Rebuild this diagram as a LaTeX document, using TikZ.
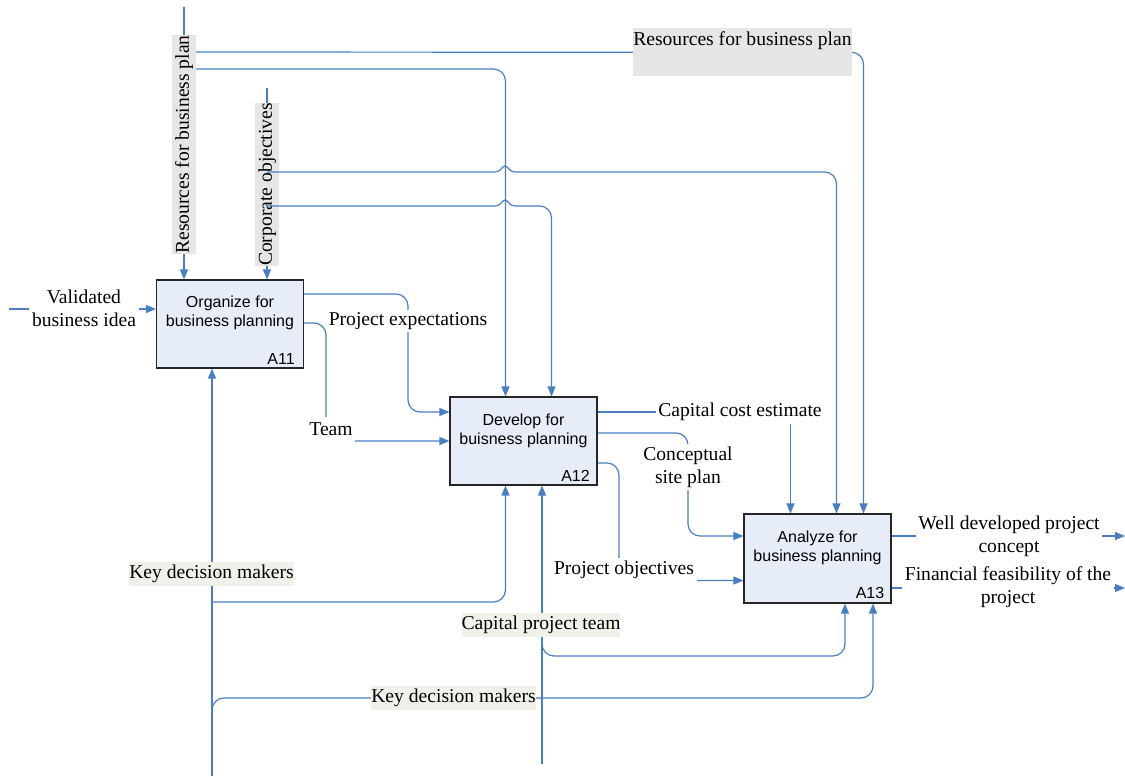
\documentclass[tikz,border=0pt]{standalone}
\usepackage{fontspec}
\setmainfont{Liberation Serif}
\newfontfamily\boxfont{Liberation Sans}
\usetikzlibrary{arrows.meta,calc}
\definecolor{flow}{RGB}{74,126,193}
\definecolor{boxfill}{RGB}{230,237,248}
\definecolor{tagfill}{RGB}{230,230,230}
\definecolor{mechfill}{RGB}{240,241,232}
\pgfdeclarelayer{back}
\pgfsetlayers{back,main}
\begin{document}
\begin{tikzpicture}[x=0.75pt,y=-0.75pt,
  conn/.style={draw=flow, line width=0.9pt},
  arr/.style={conn, -{Triangle[length=7.5pt,width=6pt]}},
  actbox/.style={draw=black!85, line width=0.8pt, fill=boxfill,
    minimum width=110.25pt, minimum height=66pt, inner sep=0pt},
  acttext/.style={font=\boxfont\fontsize{12}{14.5}\selectfont, align=center, inner sep=0pt},
  actid/.style={font=\boxfont\fontsize{12}{14.5}\selectfont, inner sep=0pt, anchor=base east},
  lbl/.style={font=\fontsize{14.7}{17}\selectfont, align=center, fill=white, inner sep=2pt},
  tag/.style={font=\fontsize{14.7}{17}\selectfont, inner xsep=0pt, inner ysep=1.65pt,
    text height=11pt, text depth=3.7pt},
]
\useasboundingbox (0,0) rectangle (1125,776);

% activity boxes
\node[actbox] (a11) at (230,324) {};
\node[actbox] (a12) at (523.5,441) {};
\node[actbox, minimum height=66.75pt] (a13) at (817.5,558.5) {};

\node[acttext] (a11t) at ($(a11.center)+(0,-11)$) {Organize for\\business planning};
\node[actid] (a11id) at ($(a11.south east)+(-9,-4)$) {A11};
\node[acttext] (a12t) at ($(a12.center)+(0,-10)$) {Develop for\\buisness planning};
\node[actid] (a12id) at ($(a12.south east)+(-7.5,-4)$) {A12};
\node[acttext] (a13t) at ($(a13.center)+(0,-10.5)$) {Analyze for\\business planning};
\node[actid] (a13id) at ($(a13.south east)+(-7,-5)$) {A13};

% arrow labels
\node[lbl] (lvalid) at (84,308) {Validated\\business idea};
\node[lbl] (lexp) at (408,321) {Project expectations};
\node[lbl, text height=11pt, text depth=3.7pt, inner ysep=3pt] (lteam) at (331,431) {Team};
\node[lbl] (lcost) at (740,412) {Capital cost estimate};
\node[lbl] (lsite) at (688,467) {Conceptual\\site plan};
\node[lbl] (lobj) at (624,570) {Project objectives};
\node[lbl] (lwell) at (1009,536) {Well developed project\\concept};
\node[lbl] (lfin) at (1008,587) {Financial feasibility of the\\project};

\node[tag, fill=tagfill, rotate=90] (tres) at (184,144.5) {Resources for business plan};
\node[tag, fill=tagfill, rotate=90] (tcorp) at (267,184.5) {Corporate objectives};
\node[tag, fill=tagfill, anchor=north west, text depth=21.7pt] (tres2) at (633,28) {Resources for business plan};
\node[tag, fill=mechfill] (tkdm1) at (211.5,573.5) {Key decision makers};
\node[tag, fill=mechfill] (tkdm2) at (453.5,698) {Key decision makers};
\node[tag, fill=mechfill] (tcpt) at (541,625) {Capital project team};

\begin{pgfonlayer}{back}
  % inputs
  \coordinate (vin) at (9,309);
  \draw[arr] (vin) -- (vin -| a11.west);

  % controls from the top
  \coordinate (rin) at (184,7);
  \draw[arr] (rin) -- (rin |- a11.north);
  \coordinate (cin) at (267,88);
  \draw[arr] (cin) -- (cin |- a11.north);
  \coordinate (rsA) at (196,52);
  \coordinate (rsB) at (196,69);
  \draw[conn] (rsA) -- (tres2.west);
  \draw[arr, rounded corners=9pt] (tres2.east) -| ($(a13.north)+(46,0)$);
  \draw[arr, rounded corners=9pt] (rsB) -| ($(a12.north)+(-18,0)$);

  % flows between activities
  \draw[arr, rounded corners=9pt] ($(a11.east)+(0,-30)$) -| (408,360) |- ($(a12.west)+(0,-29)$);
  \draw[arr, rounded corners=9pt] ($(a11.east)+(0,-1)$) -| (326,400) |- (a12.west);
  \draw[arr] ($(a12.east)+(0,-29)$) -| ($(a13.north)+(-27,0)$);
  \draw[arr, rounded corners=9pt] ($(a12.east)+(0,-8)$) -| (688,490) |- ($(a13.west)+(0,-22.5)$);
  \draw[arr, rounded corners=9pt] ($(a12.east)+(0,22)$) -| (619,520) |- ($(a13.west)+(0,22)$);

  % outputs
  \coordinate (wout) at (1125,536);
  \coordinate (fout) at (1125,588);
  \draw[arr] (a13.east |- wout) -- (wout);
  \draw[arr] (a13.east |- fout) -- (fout);

  % mechanisms from below
  \coordinate (kin) at (212,776);
  \draw[arr] (kin) -- (kin |- a11.south);
  \coordinate (kA) at (212,602);
  \draw[arr, rounded corners=9pt] (kA) -| ($(a12.south)+(-18,0)$);
  \coordinate (kB) at (212,722);
  \coordinate (kturn) at (873,698);
  \draw[arr, rounded corners=9pt] (kB) |- (kturn) -- (kturn |- a13.south);
  \coordinate (cpin) at (542,764);
  \draw[arr] (cpin) -- (cpin |- a12.south);
  \coordinate (cpA) at (542,636);
  \coordinate (cpturn) at (845,656);
  \draw[arr, rounded corners=9pt] (cpA) |- (cpturn) -- (cpturn |- a13.south);
\end{pgfonlayer}

% corporate objectives branches, hopping over the resources line
\coordinate (csA) at (267,172);
\coordinate (csB) at (267,206);
\draw[arr] (csA) -- (495,172) .. controls (501,172) and (502,166) .. (505,166)
  .. controls (508,166) and (509,172) .. (515,172) [rounded corners=9pt] -| ($(a13.north)+(19,0)$);
\draw[arr] (csB) -- (495,206) .. controls (501,206) and (502,200) .. (505,200)
  .. controls (508,200) and (509,206) .. (515,206) [rounded corners=9pt] -| ($(a12.north)+(28,0)$);
\end{tikzpicture}
\end{document}
